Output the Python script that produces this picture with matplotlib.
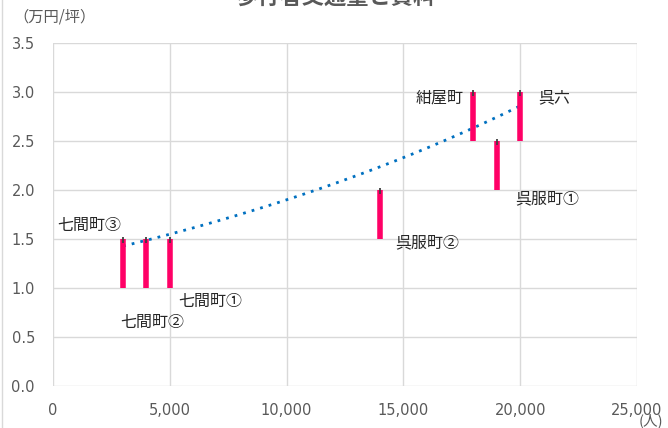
import numpy as np
import matplotlib.pyplot as plt
from matplotlib.ticker import FuncFormatter

plt.rcParams['font.family'] = ['Noto Sans CJK JP', 'DejaVu Sans']

names = ['七間町③', '七間町②', '七間町①', '呉服町②', '紺屋町', '呉服町①', '呉六']
traffic = np.array([3000, 4000, 5000, 14000, 18000, 19000, 20000])  # 人
rent_low = np.array([1.0, 1.0, 1.0, 1.5, 2.5, 2.0, 2.5])  # 万円/坪
rent_high = np.array([1.5, 1.5, 1.5, 2.0, 3.0, 2.5, 3.0])

# label offsets in points (dx, dy, ha, anchor at high/low)
label_pos = [(-1, 10, 'right', 'high'), (4, -25, 'center', 'low'), (6, -10, 'left', 'low'),
             (11, -3, 'left', 'low'), (-7, -4, 'right', 'high'), (13, -6, 'left', 'low'),
             (13, -4, 'left', 'high')]

fig = plt.figure(figsize=(6.68, 4.28), dpi=100)
ax = fig.add_axes([53/668, 1-386/428, 584/668, 343/428])

pink = '#FF0066'
grey = '#D9D9D9'
txt = '#595959'

ax.vlines(traffic, rent_low, rent_high, color=pink, linewidth=4.0, zorder=3)
ax.vlines(traffic, rent_high - 0.04, rent_high + 0.02, color='#404040', linewidth=1.3, zorder=4)

# exponential trendline on the upper values (as in Excel)
b, a = np.polyfit(traffic, np.log(rent_high), 1)
xt = np.linspace(traffic.min(), traffic.max(), 200)
ax.plot(xt, np.exp(a + b * xt), color='#0070C0', linestyle=(0, (1, 2.2)), linewidth=2.0, zorder=2)

for n, x, lo, hi, (dx, dy, ha, where) in zip(names, traffic, rent_low, rent_high, label_pos):
    y = hi if where == 'high' else lo
    ax.annotate(n, (x, y), xytext=(dx, dy), textcoords='offset points', ha=ha, va='center',
                fontsize=11.5, color='#262626')

ax.set_xlim(0, 25000)
ax.set_ylim(0, 3.5)
ax.set_xticks(np.arange(0, 25001, 5000))
ax.set_yticks(np.arange(0, 3.51, 0.5))
ax.xaxis.set_major_formatter(FuncFormatter(lambda v, p: f'{int(v):,}'))
ax.yaxis.set_major_formatter(FuncFormatter(lambda v, p: f'{v:.1f}'))
ax.grid(True, color=grey, linewidth=1.0)
ax.set_axisbelow(True)
for s in ax.spines.values():
    s.set_visible(False)
ax.tick_params(length=0, labelsize=10.5, labelcolor=txt)
ax.tick_params(axis='x', pad=12)
ax.tick_params(axis='y', pad=13)
for lab in ax.get_xticklabels() + ax.get_yticklabels():
    lab.set_family('DejaVu Sans')

fig.text(13/668, 1-17/428, '（万円/坪）', fontsize=11, color=txt, va='center', ha='left')
fig.text(651/668, 1-421/428, '(人)', fontsize=10.5, color=txt, va='center', ha='center')
fig.text(336/668, 1 + 3/428, '歩行者交通量と賃料', fontsize=16, fontweight='bold', color=txt,
         ha='center', va='center')
fig.add_artist(plt.Line2D([2/668, 2/668], [0, 1], transform=fig.transFigure, color=grey, linewidth=1))

fig.savefig('out.png', dpi=100)
